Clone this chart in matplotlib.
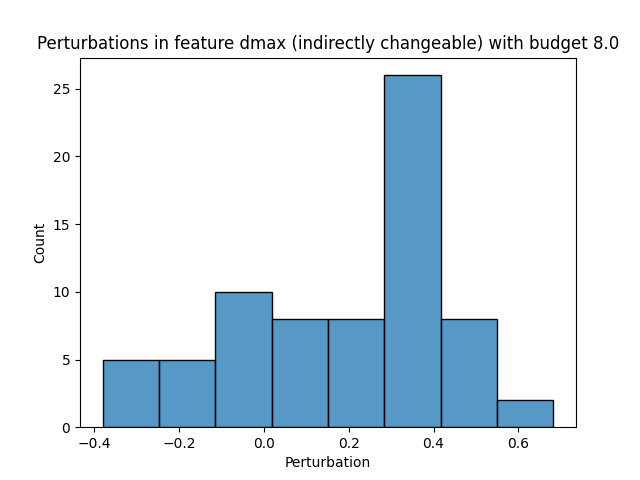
import numpy as np
import seaborn as sns
from matplotlib import pyplot as plt

# bin edges and counts
bin_edges = [-0.381, -0.248, -0.115, 0.018, 0.150, 0.283, 0.417, 0.550, 0.683]
counts = [5, 5, 10, 8, 8, 26, 8, 2]

centers = [(a + b) / 2 for a, b in zip(bin_edges[:-1], bin_edges[1:])]

fig, ax = plt.subplots(figsize=(6.4, 4.8), dpi=100)
sns.histplot(x=centers, weights=counts, bins=bin_edges, ax=ax)
ax.set_title('Perturbations in feature dmax (indirectly changeable) with budget 8.0')
ax.set_xlabel('Perturbation')
ax.set_ylabel('Count')
plt.savefig('out.png')
